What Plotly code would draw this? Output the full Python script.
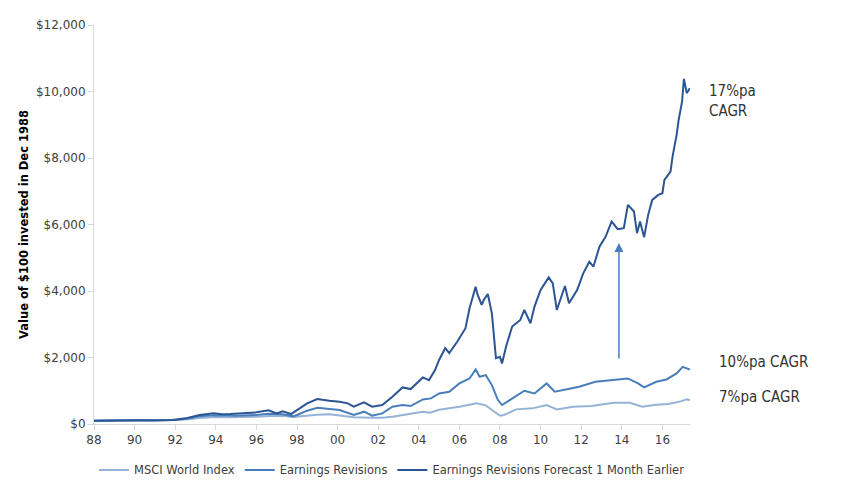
import plotly.graph_objects as go

# значения (год в десятичном виде, $)
msci_years = [1988.0, 1989.0, 1990.0, 1990.7, 1991.3, 1992.0, 1992.6, 1993.2, 1994.0, 1994.6,
              1995.2, 1996.0, 1996.6, 1997.3, 1997.8, 1998.5, 1999.0, 1999.6, 2000.1, 2000.8,
              2001.7, 2002.2, 2002.7, 2003.4, 2004.2, 2004.55, 2005.0, 2006.0, 2006.85, 2007.3,
              2007.8, 2008.0, 2008.2, 2008.8, 2009.6, 2010.3, 2010.8, 2011.6, 2012.5, 2013.6,
              2014.4, 2015.0, 2015.7, 2016.3, 2016.9, 2017.2, 2017.35]
msci_values = [100, 110, 115, 100, 110, 115, 140, 180, 210, 200,
               205, 220, 240, 250, 210, 260, 280, 290, 260, 200,
               190, 190, 220, 300, 370, 340, 430, 520, 620, 560,
               330, 250, 270, 440, 470, 570, 440, 520, 540, 640,
               640, 520, 580, 600, 680, 740, 720]

revisions_years = [1988.0, 1989.0, 1990.0, 1991.0, 1992.0, 1992.6, 1993.2, 1993.9, 1995.0, 1996.0,
                   1996.6, 1997.3, 1997.8, 1998.0, 1998.5, 1999.0, 1999.6, 2000.1, 2000.8, 2001.3,
                   2001.7, 2002.2, 2002.7, 2003.2, 2003.6, 2004.2, 2004.6, 2005.0, 2005.5, 2006.0,
                   2006.5, 2006.8, 2007.0, 2007.3, 2007.6, 2007.9, 2008.1, 2008.5, 2009.0, 2009.2,
                   2009.7, 2010.3, 2010.7, 2011.3, 2011.9, 2012.7, 2013.6, 2014.3, 2014.8, 2015.1,
                   2015.7, 2016.2, 2016.7, 2017.0, 2017.35]
revisions_values = [100, 110, 110, 105, 120, 160, 230, 260, 250, 270,
                    310, 290, 230, 270, 400, 490, 460, 420, 270, 370,
                    250, 320, 520, 570, 540, 740, 770, 920, 970, 1220,
                    1370, 1640, 1420, 1470, 1170, 720, 570, 720, 920, 1000,
                    920, 1220, 970, 1040, 1120, 1270, 1320, 1370, 1220, 1100,
                    1270, 1340, 1520, 1720, 1640]

forecast_years = [1988.0, 1989.5, 1990.0, 1990.7, 1991.3, 1991.9, 1992.5, 1993.2, 1993.9, 1994.3,
                  1994.7, 1995.1, 1995.5, 1996.0, 1996.6, 1997.0, 1997.3, 1997.7, 1998.0, 1998.5,
                  1999.0, 1999.3, 1999.6, 2000.1, 2000.5, 2000.8, 2001.3, 2001.7, 2002.2, 2002.7,
                  2003.2, 2003.6, 2004.2, 2004.5, 2004.8, 2005.0, 2005.3, 2005.5, 2005.9, 2006.3,
                  2006.5, 2006.8, 2006.9, 2007.1, 2007.2, 2007.4, 2007.6, 2007.8, 2008.0, 2008.1,
                  2008.3, 2008.6, 2009.0, 2009.2, 2009.5, 2009.7, 2010.0, 2010.4, 2010.6, 2010.8,
                  2011.0, 2011.2, 2011.4, 2011.8, 2012.1, 2012.4, 2012.6, 2012.9, 2013.2, 2013.5,
                  2013.8, 2014.1, 2014.3, 2014.6, 2014.75, 2014.9, 2015.1, 2015.3, 2015.5, 2015.8,
                  2016.0, 2016.1, 2016.4, 2016.5, 2016.7, 2016.8, 2016.97, 2017.06, 2017.2, 2017.35]
forecast_values = [100, 110, 115, 105, 115, 120, 170, 270, 320, 290,
                   300, 310, 340, 350, 410, 320, 380, 300, 420, 620,
                   750, 720, 700, 670, 620, 520, 650, 520, 570, 820,
                   1100, 1050, 1400, 1320, 1620, 1925, 2280, 2130, 2480, 2880,
                   3480, 4130, 3880, 3580, 3730, 3910, 3330, 1980, 2020, 1820,
                   2330, 2930, 3130, 3430, 3030, 3530, 4030, 4410, 4230, 3430,
                   3780, 4150, 3630, 4030, 4530, 4880, 4730, 5330, 5630, 6090,
                   5860, 5890, 6590, 6390, 5740, 6090, 5620, 6290, 6740, 6890,
                   6940, 7340, 7590, 8040, 8690, 9140, 9700, 10380, 9950, 10100]

tick_years = list(range(1988, 2017, 2))
tick_labels = ['88', '90', '92', '94', '96', '98', '00', '02', '04', '06', '08', '10', '12', '14', '16']

# стрелка: год и значения от/до
arrow_year = 2013.86
arrow_from = 1925
arrow_to = 5445

fig = go.Figure()
fig.add_trace(go.Scatter(x=msci_years, y=msci_values, mode='lines', name='MSCI World Index',
                         line=dict(color='#95b3d7', width=2)))
fig.add_trace(go.Scatter(x=revisions_years, y=revisions_values, mode='lines', name='Earnings Revisions',
                         line=dict(color='#4a7ebb', width=2)))
fig.add_trace(go.Scatter(x=forecast_years, y=forecast_values, mode='lines',
                         name='Earnings Revisions Forecast 1 Month Earlier',
                         line=dict(color='#2c5593', width=2)))

label_font = dict(family='DejaVu Sans Condensed', size=15, color='#333333')
fig.add_annotation(x=1.028, xref='paper', y=9700, yref='y', text='17%pa<br>CAGR',
                   showarrow=False, xanchor='left', align='left', font=label_font)
fig.add_annotation(x=1.045, xref='paper', y=1865, yref='y', text='10%pa CAGR',
                   showarrow=False, xanchor='left', font=label_font)
fig.add_annotation(x=1.045, xref='paper', y=812, yref='y', text='7%pa CAGR',
                   showarrow=False, xanchor='left', font=label_font)
fig.add_annotation(x=arrow_year, y=arrow_to, ax=arrow_year, ay=arrow_from,
                   xref='x', yref='y', axref='x', ayref='y', text='',
                   showarrow=True, arrowhead=2, arrowsize=1.2, arrowwidth=1.5, arrowcolor='#4a7ebb')

# страница имеет отступ 8px, поэтому фигура чуть меньше окна
fig.update_layout(
    width=841, height=474,
    margin=dict(l=86, r=159, t=17, b=58, autoexpand=False),
    plot_bgcolor='white', paper_bgcolor='white',
    font=dict(family='DejaVu Sans', size=12, color='#404040'),
    showlegend=True,
    legend=dict(orientation='h', x=0.5, xanchor='center', y=-0.115, yanchor='middle',
                font=dict(size=11.5, color='#404040'), traceorder='normal'),
)
fig.update_xaxes(range=[1988, 2017.36], tickvals=tick_years, ticktext=tick_labels, automargin=False,
                 showgrid=False, zeroline=False, showline=True, linecolor='#d9d9d9', linewidth=1,
                 ticks='outside', ticklen=5, tickcolor='#d9d9d9')
fig.update_yaxes(range=[0, 12000], dtick=2000, tickprefix='$', tickformat=',', automargin=False,
                 showgrid=False, zeroline=False, showline=True, linecolor='#d9d9d9', linewidth=1,
                 ticks='outside', ticklen=5, tickcolor='#d9d9d9',
                 title=dict(text='<b>Value of $100 invested in Dec 1988</b>', standoff=4,
                            font=dict(size=11.5, color='#000000')))

fig.write_html("out.html")
